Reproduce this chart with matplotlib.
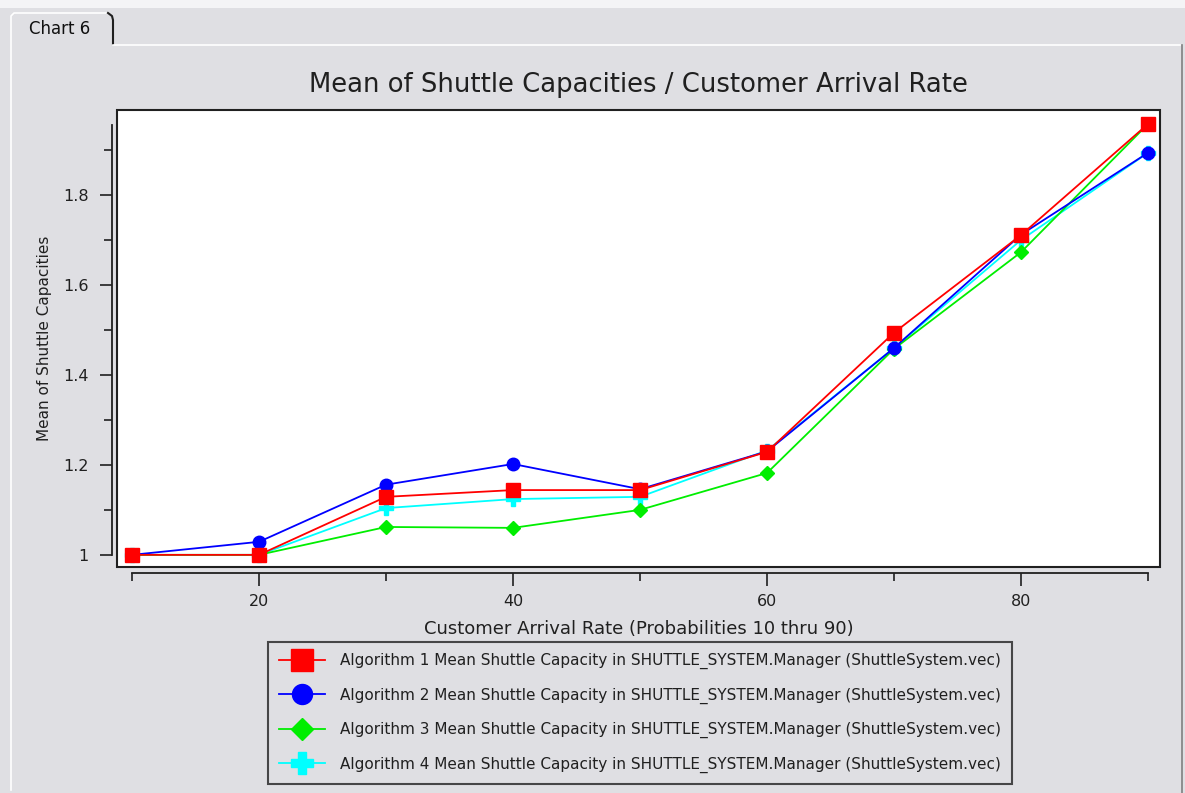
import numpy as np
import matplotlib
matplotlib.use('Agg')
import matplotlib.pyplot as plt
from matplotlib.lines import Line2D
from matplotlib.patches import Rectangle

plt.rcParams['font.family'] = ['DejaVu Sans']

# arrival rate (probabilities 10..90)
rates = [10, 20, 30, 40, 50, 60, 70, 80, 90]
alg1 = [1.0, 1.0, 1.129, 1.144, 1.144, 1.229, 1.494, 1.711, 1.958]
alg2 = [1.0, 1.029, 1.156, 1.202, 1.146, 1.230, 1.460, 1.712, 1.894]
alg3 = [1.0, 1.0, 1.062, 1.060, 1.100, 1.182, 1.458, 1.673, 1.958]
alg4 = [1.0, 1.0, 1.104, 1.124, 1.129, 1.232, 1.460, 1.700, 1.894]
labels = ['Algorithm %d Mean Shuttle Capacity in SHUTTLE_SYSTEM.Manager (ShuttleSystem.vec)' % i
          for i in range(1, 5)]

bg = '#dfdfe3'
W, H = 1185, 793
fig = plt.figure(figsize=(W / 100, H / 100), dpi=100, facecolor=bg)


def px(x, y):
    return x / W, 1 - y / H


# tab + panel decoration
def fline(xs, ys, color, lw=1.2):
    fig.add_artist(Line2D([x / W for x in xs], [1 - y / H for y in ys],
                          color=color, lw=lw, transform=fig.transFigure))

fig.add_artist(Rectangle((0, 1 - 8 / H), 1, 8 / H, transform=fig.transFigure,
                         color='#f4f4f6', lw=0))
fline([11, 11, 14, 108], [790, 16, 13, 13], 'white')
fline([108, 112, 113, 113], [13, 16, 20, 44], '#202020', lw=1.5)
fline([113, 1180], [45, 45], 'white')
fline([1182, 1182], [45, 793], '#808080')

ax = fig.add_axes([117 / W, 1 - 567 / H, (1160 - 117) / W, (567 - 110) / H])
ax.set_facecolor('white')

styles = [
    (alg4, 'cyan', 'P', 10, labels[3]),
    (alg3, '#00ee00', 'D', 7, labels[2]),
    (alg2, 'blue', 'o', 9, labels[1]),
    (alg1, 'red', 's', 9.5, labels[0]),
]
handles = {}
for vals, col, mk, ms, lab in styles:
    h, = ax.plot(rates, vals, color=col, lw=1.3, marker=mk, ms=ms,
                 mec=col, mfc=col, label=lab, clip_on=False)
    handles[lab] = h

ax.set_xlim(8.82, 90.94)
ax.set_ylim(0.973, 1.989)

# box frame
ax.add_patch(Rectangle((0, 0), 1, 1, transform=ax.transAxes, fill=False,
                       ec='#202020', lw=1.5, clip_on=False, zorder=5))
for s in ['top', 'right']:
    ax.spines[s].set_visible(False)
ax.spines['left'].set_position(('outward', 3.6))
ax.spines['bottom'].set_position(('outward', 4.3))
ax.spines['left'].set_bounds(1.0, 1.956)
ax.spines['bottom'].set_bounds(10, 90)
for s in ['left', 'bottom']:
    ax.spines[s].set_color('#202020')
    ax.spines[s].set_linewidth(1.3)

ax.set_xticks([20, 40, 60, 80])
ax.set_xticks([10, 30, 50, 70, 90], minor=True)
ax.set_yticks([1.0, 1.2, 1.4, 1.6, 1.8])
ax.set_yticklabels(['1', '1.2', '1.4', '1.6', '1.8'])
ax.set_yticks([1.1, 1.3, 1.5, 1.7, 1.9], minor=True)
ax.tick_params(which='major', length=9, width=1.2, color='#202020',
               labelsize=11.5, pad=6, labelcolor='#202020')
ax.tick_params(axis='y', which='major', pad=8)
ax.tick_params(which='minor', length=6, width=1.2, color='#202020')

ax.set_xlabel('Customer Arrival Rate (Probabilities 10 thru 90)', fontsize=13,
              color='#202020')
ax.xaxis.set_label_coords(0.5, -0.116)
ax.set_ylabel('Mean of Shuttle Capacities', fontsize=11, color='#202020')
ax.yaxis.set_label_coords(-0.062, 0.5)
ax.set_title('Mean of Shuttle Capacities / Customer Arrival Rate', fontsize=18.6,
             color='#202020', pad=13)

fig.text(*px(60, 29), 'Chart 6', fontsize=12, ha='center', va='center', color='#101010')

leg = fig.legend([handles[l] for l in labels], labels, loc='center',
                 bbox_to_anchor=px(640, 713), fontsize=11, frameon=True,
                 fancybox=False, edgecolor='#202020', facecolor=bg,
                 labelspacing=1.2, handlelength=3.0, borderpad=0.7,
                 handletextpad=1.0, markerscale=1.6, borderaxespad=0)
leg.get_frame().set_linewidth(1.5)
for t in leg.get_texts():
    t.set_color('#202020')

fig.savefig('out.png', dpi=100, facecolor=bg)
